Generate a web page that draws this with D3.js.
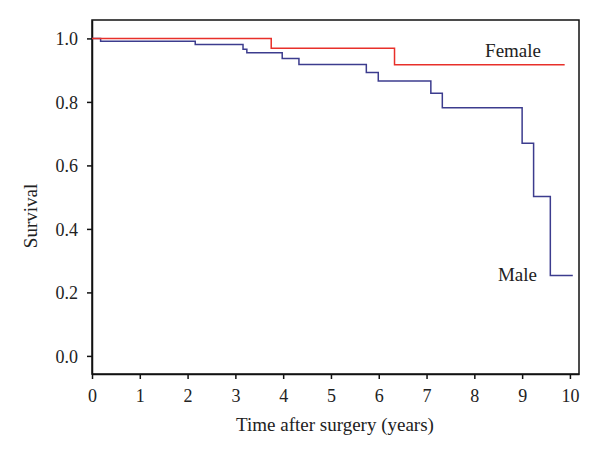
<!DOCTYPE html>
<html>
<head>
<meta charset="utf-8">
<script src="https://cdn.jsdelivr.net/npm/d3@7"></script>
<style>
body{margin:0;background:#fff;}
svg text{font-family:"Liberation Serif","DejaVu Serif",serif;fill:#222;}
</style>
</head>
<body>
<svg id="chart" width="600" height="459"></svg>
<script>
const xTicks = [0,1,2,3,4,5,6,7,8,9,10];
const yTicks = [0.0,0.2,0.4,0.6,0.8,1.0];
const femaleTimes = [0, 3.75, 6.33];
const femaleSurv  = [1.0, 0.969, 0.917];
const femaleEnd = 9.89;
const maleTimes = [0, 0.18, 2.16, 3.16, 3.24, 3.98, 4.33, 5.74, 5.99, 7.09, 7.33, 9.0, 9.24, 9.59];
const maleSurv  = [1.0, 0.991, 0.981, 0.966, 0.955, 0.937, 0.918, 0.893, 0.866, 0.827, 0.782, 0.670, 0.502, 0.253];
const maleEnd = 10.06;

const svg = d3.select("#chart");
const L=92, R=579, T=20, B=374;
const x = d3.scaleLinear().domain([0,10.19]).range([L,R]);
const y = d3.scaleLinear().domain([-0.057,1.058]).range([B,T]);

// frame
svg.append("rect").attr("x",L).attr("y",T).attr("width",R-L).attr("height",B-T)
  .attr("fill","none").attr("stroke","#111").attr("stroke-width",1.5);

// axes
const xAxis = svg.append("g").attr("transform",`translate(0,${B})`)
  .call(d3.axisBottom(x).tickValues(xTicks).tickSize(5).tickSizeOuter(0).tickFormat(d3.format("d")));
const yAxis = svg.append("g").attr("transform",`translate(${L},0)`)
  .call(d3.axisLeft(y).tickValues(yTicks).tickSize(5).tickSizeOuter(0).tickFormat(d3.format(".1f")));
[xAxis,yAxis].forEach(g=>{
  g.select(".domain").attr("stroke","#111").attr("stroke-width",1.5);
  g.selectAll(".tick line").attr("stroke","#111").attr("stroke-width",1.5);
  g.selectAll(".tick text").attr("font-size",18).attr("font-family","Liberation Serif, serif").attr("fill","#222");
});
xAxis.selectAll(".tick text").attr("dy",null).attr("y",28);
yAxis.selectAll(".tick text").attr("x",-14).attr("dy","0.34em");

// titles
svg.append("text").attr("x",335).attr("y",431).attr("text-anchor","middle")
  .attr("font-size",19).text("Time after surgery (years)");
svg.append("text").attr("transform","translate(37,216) rotate(-90)").attr("text-anchor","middle")
  .attr("font-size",19).text("Survival");

// curves
function stepData(times, surv, end){
  const d = times.map((t,i)=>({t, s:surv[i]}));
  d.push({t:end, s:surv[surv.length-1]});
  return d;
}
const line = d3.line().x(d=>x(d.t)).y(d=>y(d.s)).curve(d3.curveStepAfter);
svg.append("path").datum(stepData(maleTimes,maleSurv,maleEnd))
  .attr("d",line).attr("fill","none").attr("stroke","#3c3c8e").attr("stroke-width",1.5);
svg.append("path").datum(stepData(femaleTimes,femaleSurv,femaleEnd))
  .attr("d",line).attr("fill","none").attr("stroke","#e8302a").attr("stroke-width",1.5);

// labels
svg.append("text").attr("x",541).attr("y",57).attr("text-anchor","end").attr("font-size",19).text("Female");
svg.append("text").attr("x",537).attr("y",281).attr("text-anchor","end").attr("font-size",19).text("Male");
</script>
</body>
</html>
